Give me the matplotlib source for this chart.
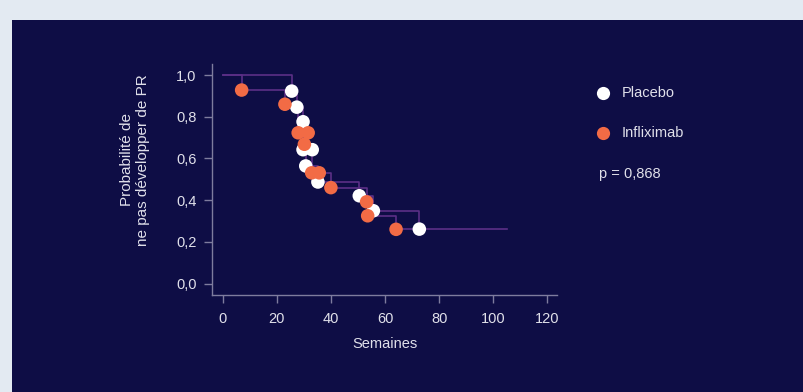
import matplotlib
matplotlib.use("Agg")
import matplotlib.pyplot as plt
from matplotlib.patches import Rectangle
from matplotlib.lines import Line2D

plt.rcParams['font.family'] = ['Liberation Sans', 'DejaVu Sans']

# ---- data ----
placebo_t = [25.5, 27.4, 29.7, 29.7, 33.1, 30.7, 35.2, 50.5, 55.7, 72.7]
placebo_s = [0.923, 0.846, 0.776, 0.642, 0.642, 0.564, 0.487, 0.421, 0.349, 0.261]
inflix_t = [7.0, 23.0, 27.9, 31.6, 30.2, 32.9, 35.7, 40.0, 53.2, 53.6, 64.1]
inflix_s = [0.928, 0.860, 0.723, 0.723, 0.668, 0.531, 0.531, 0.460, 0.392, 0.325, 0.260]

# step curves (time of change, level after change)
placebo_step_t = [0, 25.5, 27.4, 29.7, 30.7, 35.2, 50.5, 55.7, 72.7, 105.0]
placebo_step_s = [1.0, 0.923, 0.846, 0.642, 0.564, 0.487, 0.421, 0.349, 0.261, 0.261]
inflix_step_t = [0, 7.0, 23.0, 27.9, 30.2, 32.9, 40.0, 53.2, 53.6, 64.1, 72.7]
inflix_step_s = [1.0, 0.928, 0.860, 0.723, 0.668, 0.531, 0.460, 0.392, 0.325, 0.260, 0.260]

xticks = [0, 20, 40, 60, 80, 100, 120]
yticks = [0.0, 0.2, 0.4, 0.6, 0.8, 1.0]
ytick_labels = ["0,0", "0,2", "0,4", "0,6", "0,8", "1,0"]

labels = ["Placebo", "Infliximab"]
p_text = "p = 0,868"

# ---- styles ----
BG_OUT = "#E3EAF2"
NAVY = "#0E0D45"
WHITE = "#FFFFFF"
ORANGE = "#F26B45"
LINE = "#5B2F86"
AXIS = "#7E7C9E"
TEXT = "#E0E0EA"

W, H = 804, 392
fig = plt.figure(figsize=(W / 100, H / 100), dpi=100, facecolor=BG_OUT)
fig.add_artist(Rectangle((12 / W, 0), 1 - 12 / W, 1 - 20 / H, transform=fig.transFigure,
                         facecolor=NAVY, edgecolor="none", zorder=0))

ax = fig.add_axes([212 / W, 1 - 295 / H, (557 - 212) / W, (295 - 64) / H])
ax.set_facecolor("none")
ax.set_xlim(-3.96, 123.6)
ax.set_ylim(-0.055, 1.053)

ax.step(placebo_step_t, placebo_step_s, where="post", color=LINE, lw=1.2, zorder=2)
ax.step(inflix_step_t, inflix_step_s, where="post", color=LINE, lw=1.2, zorder=2)

ax.scatter(placebo_t, placebo_s, s=95, color=WHITE, edgecolors="none", zorder=3)
ax.scatter(inflix_t, inflix_s, s=95, color=ORANGE, edgecolors="none", zorder=4)

for side in ["top", "right"]:
    ax.spines[side].set_visible(False)
for side in ["left", "bottom"]:
    ax.spines[side].set_color(AXIS)
    ax.spines[side].set_linewidth(1.0)

ax.set_xticks(xticks)
ax.set_yticks(yticks)
ax.set_yticklabels(ytick_labels)
ax.tick_params(axis="both", colors=AXIS, labelcolor=TEXT, labelsize=10.5, length=6, width=1.0)
ax.tick_params(axis="y", pad=5)
ax.tick_params(axis="x", pad=6)

ax.set_xlabel("Semaines", color=TEXT, fontsize=10.5, labelpad=8)
fig.text(135 / W, 1 - 160 / H, "Probabilité de\nne pas développer de PR", rotation=90,
         ha="center", va="center", color=TEXT, fontsize=11, linespacing=1.2)

# legend
leg_x = 603 / W
for lab, col, py in [(labels[0], WHITE, 93), (labels[1], ORANGE, 133)]:
    fig.add_artist(Line2D([leg_x], [1 - py / H], marker="o", markersize=9.5, color=col,
                          markeredgewidth=0, linestyle="none", transform=fig.transFigure))
    fig.text(622 / W, 1 - py / H, lab, ha="left", va="center", color=TEXT, fontsize=10.5)
fig.text(599 / W, 1 - 174 / H, p_text, ha="left", va="center", color=TEXT, fontsize=10.5)

fig.savefig("out.png", dpi=100, facecolor=BG_OUT)
